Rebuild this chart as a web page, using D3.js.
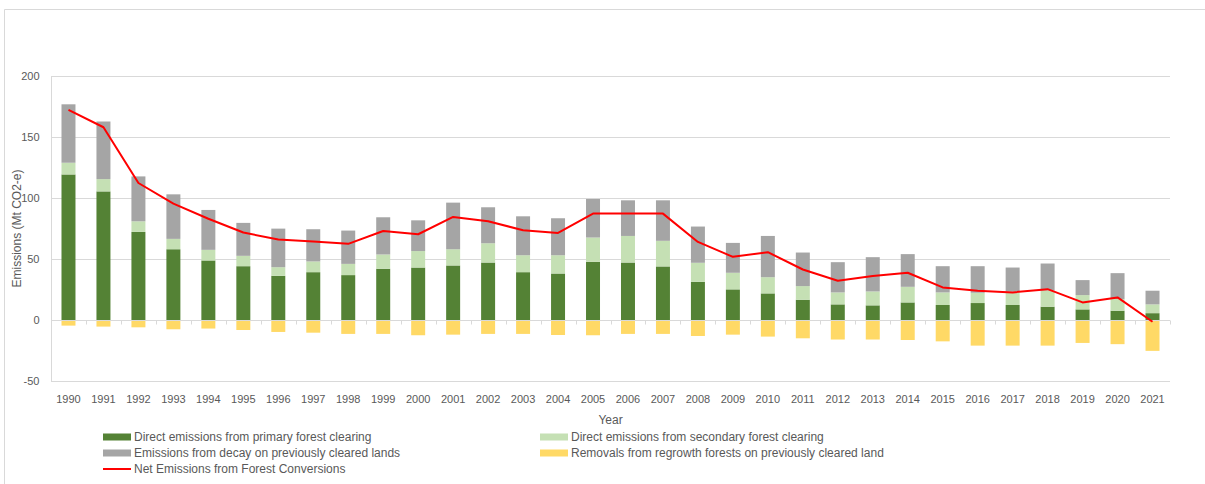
<!DOCTYPE html>
<html><head><meta charset="utf-8">
<script src="https://cdn.jsdelivr.net/npm/d3@7/dist/d3.min.js"></script>
<style>
body{margin:0;background:#fff;}
text{font-family:"Liberation Sans",Arial,sans-serif;fill:#595959;}
</style></head>
<body><svg id="c" width="1205" height="484"></svg>
<script>
const years = ["1990","1991","1992","1993","1994","1995","1996","1997","1998","1999","2000","2001","2002","2003","2004","2005","2006","2007","2008","2009","2010","2011","2012","2013","2014","2015","2016","2017","2018","2019","2020","2021"];
const primary = [119.3,105.4,72.2,58,48.8,44.1,36.2,39.2,36.8,42,43,44.7,47.1,39.2,38.1,47.7,47.1,43.9,31.3,25.1,21.8,16.6,12.8,12,14.4,12.3,13.9,12.3,10.9,8.7,7.6,5.6];
const secondary = [9.6,10.1,8.7,8.5,8.7,8.5,7.1,8.8,9.2,11.7,13.5,13.3,15.8,13.9,15,19.9,21.8,21,15.6,13.6,13.3,11.2,9.8,11.4,12.8,10.3,8.4,10.9,13.4,11.7,9.6,7.2];
const decay = [47.9,47.2,36.8,36.5,32.7,27,31.6,26.4,27.3,30.5,25.2,38.2,29.5,31.9,30.3,31.6,29.2,33.2,29.7,24.5,33.8,27.5,24.8,28.1,26.8,21.5,21.8,19.8,22,12.3,21.2,11.2];
const removals = [-4.6,-5.4,-6,-7.6,-7,-8.2,-9.8,-10.4,-11.4,-11.4,-12.5,-12,-11.4,-11.4,-12.3,-12.5,-11.4,-11.4,-13.1,-12,-13.6,-15,-16,-16,-16.4,-17.5,-21,-21,-21,-18.8,-19.8,-25.3];
const net = [172.2,158,112.3,95.4,83,71.7,65.9,64.3,62.4,73,70.3,84.5,80.9,73.6,71.4,87.2,87.2,87.2,64,51.8,55.6,41.4,32.2,36,38.7,26.7,24,22.6,25.3,14.4,18.5,-1.4];
const yTicks = [-50,0,50,100,150,200];
const seriesNames = ["Direct emissions from primary forest clearing","Direct emissions from secondary forest clearing","Emissions from decay on previously cleared lands","Removals from regrowth forests on previously cleared land","Net Emissions from Forest Conversions"];
const colors = ["#548235","#C5E0B4","#A5A5A5","#FFD966","#FF0000"];

const svg = d3.select("#c");
const L=51,R=1170,T=76,B=381;
const x = d3.scaleBand().domain(years).range([L,R]).paddingInner(0.6).paddingOuter(0.3);
const y = d3.scaleLinear().domain([-50,200]).range([B,T]);

// outer border
svg.append("path").attr("d",`M4.5,484 V9.5 H1205`).attr("fill","none").attr("stroke","#d9d9d9").attr("stroke-width",1);

// gridlines
svg.append("g").selectAll("line").data(yTicks.filter(d=>d!==0)).join("line")
  .attr("x1",L).attr("x2",R).attr("y1",d=>Math.round(y(d))+0.5).attr("y2",d=>Math.round(y(d))+0.5)
  .attr("stroke","#d9d9d9").attr("stroke-width",1);
// y axis line
svg.append("line").attr("x1",L+0.5).attr("x2",L+0.5).attr("y1",y(200)).attr("y2",y(-50)).attr("stroke","#d9d9d9");

// y tick labels
svg.append("g").selectAll("text").data(yTicks).join("text")
  .attr("x",39.5).attr("y",d=>y(d)).attr("dy","0.35em").attr("text-anchor","end")
  .attr("font-size",11).text(d=>d);

// stacked bars
const stackKeys = [primary, secondary, decay];
years.forEach((yr,i)=>{
  let base=0;
  stackKeys.forEach((arr,k)=>{
    const v=arr[i];
    svg.append("rect").attr("x",x(yr)).attr("width",x.bandwidth())
      .attr("y",y(base+v)).attr("height",y(base)-y(base+v)).attr("fill",colors[k]);
    base+=v;
  });
  svg.append("rect").attr("x",x(yr)).attr("width",x.bandwidth())
    .attr("y",y(0)).attr("height",y(removals[i])-y(0)).attr("fill",colors[3]);
});

// zero axis line with ticks
const z=Math.round(y(0))+0.5;
svg.append("line").attr("x1",L).attr("x2",R).attr("y1",z).attr("y2",z).attr("stroke","#d9d9d9");
const bounds = d3.range(years.length+1).map(i=>L+i*(R-L)/years.length);
svg.append("g").selectAll("line").data(bounds).join("line")
  .attr("x1",d=>Math.round(d)+0.5).attr("x2",d=>Math.round(d)+0.5).attr("y1",z).attr("y2",z+4)
  .attr("stroke","#d9d9d9");

// net line
const line = d3.line().x((d,i)=>x(years[i])+x.bandwidth()/2).y(d=>y(d));
svg.append("path").datum(net).attr("d",line).attr("fill","none").attr("stroke",colors[4]).attr("stroke-width",2).attr("stroke-linejoin","round");

// x labels
svg.append("g").selectAll("text").data(years).join("text")
  .attr("x",d=>x(d)+x.bandwidth()/2).attr("y",399).attr("dy","0.35em").attr("text-anchor","middle")
  .attr("font-size",11).text(d=>d);

// axis titles
svg.append("text").attr("x",610.5).attr("y",420).attr("dy","0.35em").attr("text-anchor","middle").attr("font-size",12).text("Year");
svg.append("text").attr("transform","translate(17,228.5) rotate(-90)").attr("dy","0.35em").attr("text-anchor","middle").attr("font-size",12).text("Emissions (Mt CO2-e)");

// legend
const leg = [
  {n:0,x:103,y:437},{n:1,x:540,y:437},{n:2,x:103,y:453},{n:3,x:540,y:453},{n:4,x:103,y:469}
];
leg.forEach(d=>{
  if(d.n<4){
    svg.append("rect").attr("x",d.x).attr("y",d.y-3.5).attr("width",28).attr("height",7).attr("fill",colors[d.n]);
  } else {
    svg.append("line").attr("x1",d.x).attr("x2",d.x+28).attr("y1",d.y).attr("y2",d.y).attr("stroke",colors[4]).attr("stroke-width",2);
  }
  svg.append("text").attr("x",d.x+31).attr("y",d.y).attr("dy","0.35em").attr("font-size",12).text(seriesNames[d.n]);
});
</script></body></html>
